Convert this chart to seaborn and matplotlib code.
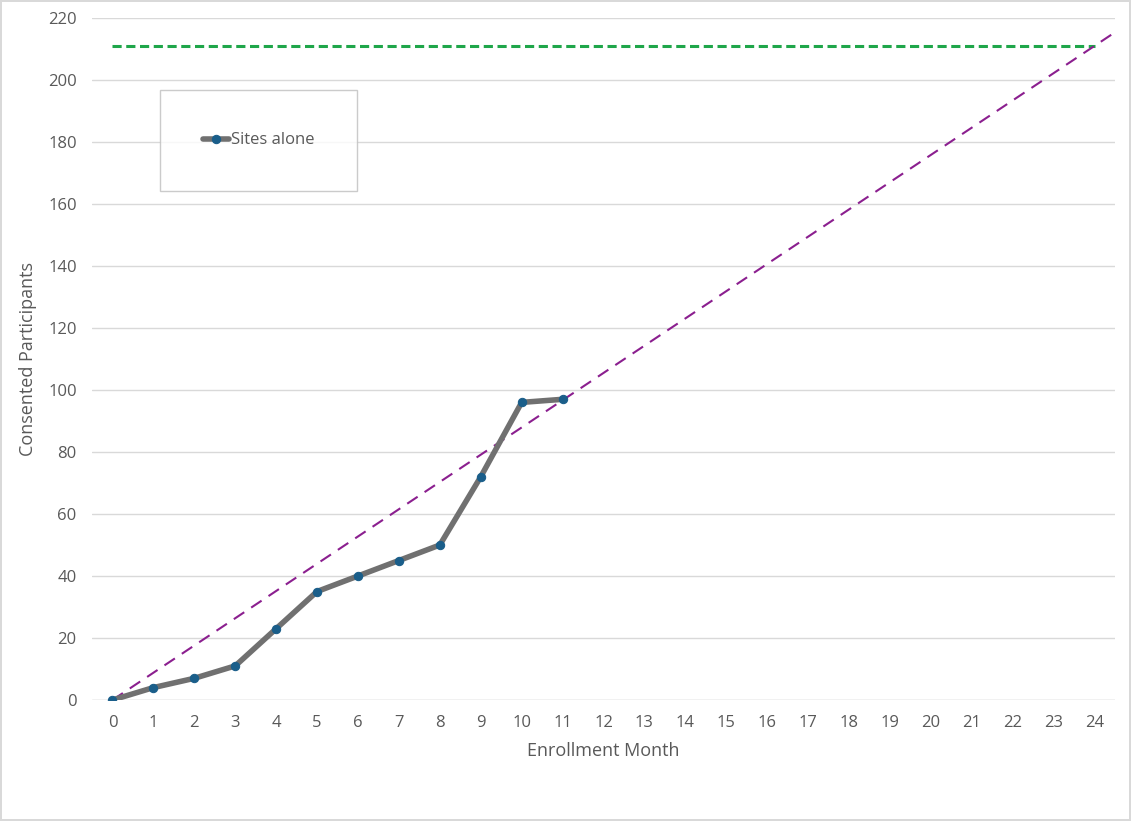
import numpy as np
import pandas as pd
import matplotlib
matplotlib.use('Agg')
import matplotlib.pyplot as plt
import seaborn as sns

# consented participants per enrollment month (sites alone)
months = list(range(12))
consented = [0, 4, 7, 11, 23, 35, 40, 45, 50, 72, 96, 97]

# enrollment goal and target pace
goal = 211
goal_months = 24
target_x = [0, 24.5]
target_y = [0, goal / goal_months * 24.5]
goal_x = [0, 24]
goal_y = [goal, goal]

df = pd.DataFrame({'Enrollment Month': months, 'Consented Participants': consented})

sns.set_style('white')
plt.rcParams['font.family'] = ['Open Sans', 'DejaVu Sans']
grey = '#595959'

fig = plt.figure(figsize=(11.31, 8.21), dpi=100)
fig.patch.set_edgecolor('#d9d9d9')
fig.patch.set_linewidth(1.5)
ax = fig.add_axes([92 / 1131, 1 - 700 / 821, (1115 - 92) / 1131, (700 - 18) / 821])

ax.plot(goal_x, goal_y, color='#1fa64a', linestyle=(0, (3, 1.5)), linewidth=2.2, zorder=2)
ax.plot(target_x, target_y, color='#8b1f8f', linestyle=(0, (6, 4)), linewidth=1.5, zorder=3)
sns.lineplot(data=df, x='Enrollment Month', y='Consented Participants', ax=ax,
             color='#707070', linewidth=4, marker='o', markersize=6,
             markerfacecolor='#1a5e8a', markeredgecolor='#1a5e8a',
             label='Sites alone', zorder=4)

ax.set_xlim(-0.5, 24.5)
ax.set_ylim(0, 220)
ax.set_xticks(range(25))
ax.set_yticks(range(0, 221, 20))
ax.yaxis.grid(True, color='#d9d9d9', linewidth=1)
ax.xaxis.grid(False)
for s in ax.spines.values():
    s.set_visible(False)
ax.axhline(0, color='#d9d9d9', linewidth=1, zorder=1)
ax.tick_params(axis='both', colors=grey, labelsize=12, length=0, pad=11)
ax.set_xlabel('Enrollment Month', color=grey, fontsize=13, labelpad=8)
ax.set_ylabel('Consented Participants', color=grey, fontsize=13, labelpad=8)

leg = ax.legend(loc='upper left', bbox_to_anchor=(68 / 1023, 1 - 72 / 682),
                frameon=True, fancybox=False, borderpad=2.55, handlelength=1.6,
                handletextpad=0.1, fontsize=12, borderaxespad=0)
leg.get_frame().set_edgecolor('#bfbfbf')
leg.get_frame().set_linewidth(1)
for t in leg.get_texts():
    t.set_color(grey)

fig.savefig('out.png', dpi=100, edgecolor=fig.get_edgecolor())
